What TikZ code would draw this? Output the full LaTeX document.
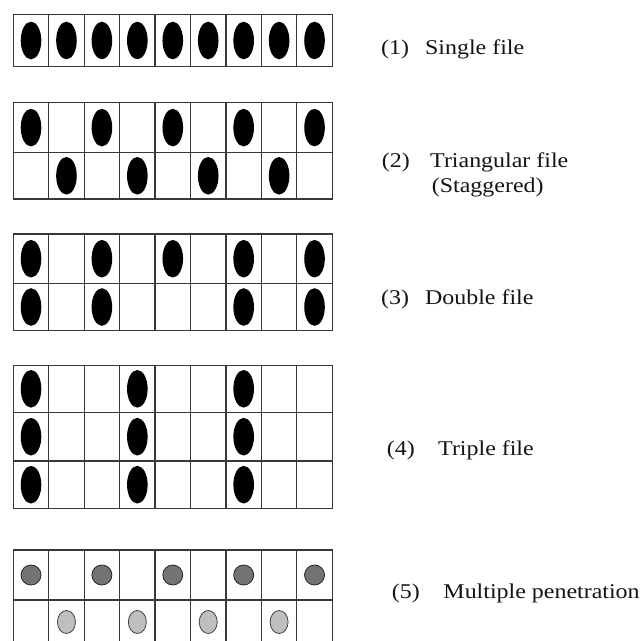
\documentclass[tikz,border=0pt]{standalone}
\usepackage{fontspec}
\setmainfont{Liberation Serif}[FakeStretch=1.14]
\usepackage{tikz}

\begin{document}
\begin{tikzpicture}[x=1pt, y=-1pt,
    gridline/.style={draw=black!78, line width=1.2pt, line cap=rect},
    pellet/.style={fill=black},
    darkpellet/.style={fill=black!55, draw=black!85, line width=0.8pt},
    lightpellet/.style={fill=black!25, draw=black!75, line width=0.8pt},
    every node/.style={font=\fontsize{21}{25}\selectfont, text=black!92, inner sep=0pt, anchor=base west}]
  \clip (0,0) rectangle (642,640);
  \fill[white] (0,0) rectangle (642,640);
  % (1) single file
  \foreach \c in {0,...,9} \draw[gridline] ({13.3+35.44*\c},14.3) -- ({13.3+35.44*\c},66.7);
  \draw[gridline] (13.3,14.3) -- (332.26,14.3) (13.3,66.7) -- (332.26,66.7);
  \foreach \c in {1,...,9} \fill[pellet] ({13.3+35.44*(\c-0.5)},40.5) ellipse [x radius=10.3pt, y radius=18.8pt];
  % (2) triangular file
  \foreach \c in {0,...,9} \draw[gridline] ({13.3+35.44*\c},102.7) -- ({13.3+35.44*\c},199);
  \draw[gridline] (13.3,102.7) -- (332.26,102.7) (13.3,152.5) -- (332.26,152.5) (13.3,199) -- (332.26,199);
  \foreach \c in {1,3,5,7,9} \fill[pellet] ({13.3+35.44*(\c-0.5)},127.6) ellipse [x radius=10.3pt, y radius=18.8pt];
  \foreach \c in {2,4,6,8} \fill[pellet] ({13.3+35.44*(\c-0.5)},175.8) ellipse [x radius=10.3pt, y radius=18.8pt];
  % (3) double file
  \foreach \c in {0,...,9} \draw[gridline] ({13.3+35.44*\c},234) -- ({13.3+35.44*\c},330.7);
  \draw[gridline] (13.3,234) -- (332.26,234) (13.3,283.3) -- (332.26,283.3) (13.3,330.7) -- (332.26,330.7);
  \foreach \c in {1,3,5,7,9} \fill[pellet] ({13.3+35.44*(\c-0.5)},258.7) ellipse [x radius=10.3pt, y radius=18.8pt];
  \foreach \c in {1,3,7,9} \fill[pellet] ({13.3+35.44*(\c-0.5)},307) ellipse [x radius=10.3pt, y radius=18.8pt];
  % (4) triple file
  \foreach \c in {0,...,9} \draw[gridline] ({13.3+35.44*\c},365.3) -- ({13.3+35.44*\c},508.3);
  \draw[gridline] (13.3,365.3) -- (332.26,365.3) (13.3,412.3) -- (332.26,412.3) (13.3,461) -- (332.26,461) (13.3,508.3) -- (332.26,508.3);
  \foreach \r in {388.8,436.7,484.7}
    \foreach \c in {1,4,7} \fill[pellet] ({13.3+35.44*(\c-0.5)},\r) ellipse [x radius=10.3pt, y radius=18.8pt];
  % (5) multiple penetration
  \foreach \c in {0,...,9} \draw[gridline] ({13.3+35.44*\c},550) -- ({13.3+35.44*\c},650);
  \draw[gridline] (13.3,550) -- (332.26,550) (13.3,600) -- (332.26,600) (13.3,650) -- (332.26,650);
  \foreach \c in {1,3,5,7,9} \filldraw[darkpellet] ({13.3+35.44*(\c-0.5)},575) circle [radius=10pt];
  \foreach \c in {2,4,6,8} \filldraw[lightpellet] ({13.3+35.44*(\c-0.5)},622) ellipse [x radius=9pt, y radius=11.5pt];
  % labels
  \node (lab1) at (381,54) {(1)\hspace{16pt}Single file};
  \node (lab2) at (381.7,167) {(2)\hspace{20.4pt}Triangular file};
  \node (lab2b) at (431.7,192) {(Staggered)};
  \node (lab3) at (381,304) {(3)\hspace{16pt}Double file};
  \node (lab4) at (386.7,455) {(4)\hspace{23.4pt}Triple file};
  \node (lab5) at (391.7,598) {(5)\hspace{23.7pt}Multiple penetration};
\end{tikzpicture}
\end{document}
